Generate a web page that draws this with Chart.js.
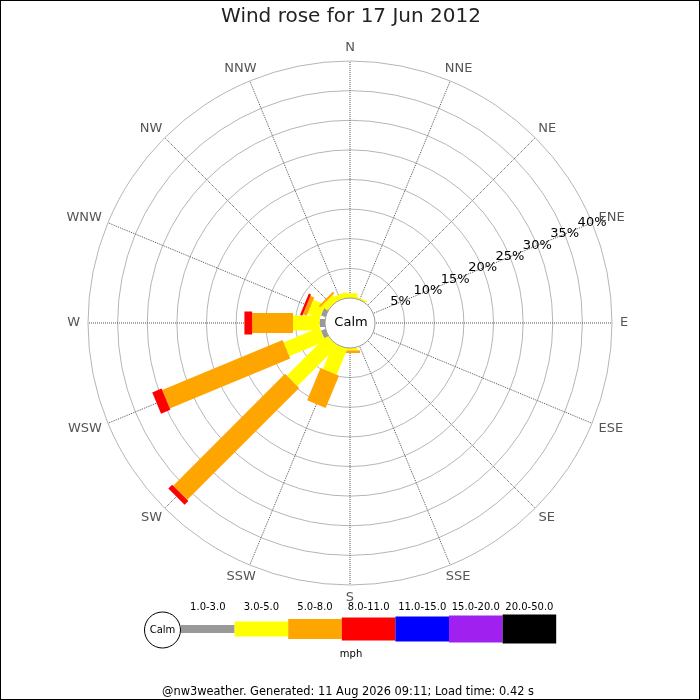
<!DOCTYPE html>
<html><head><meta charset="utf-8">
<script src="https://cdn.jsdelivr.net/npm/chart.js@4.4.1/dist/chart.umd.min.js"></script>
<style>html,body{margin:0;padding:0;background:#fff}</style>
</head><body>
<canvas id="c" width="700" height="700"></canvas>
<script>
// ---- data ----
const directions = ['N','NNE','NE','ENE','E','ESE','SE','SSE','S','SSW','SW','WSW','W','WNW','NW','NNW'];
const speedBins = ['1.0-3.0','3.0-5.0','5.0-8.0','8.0-11.0','11.0-15.0','15.0-20.0','20.0-50.0'];
// percentage of time, per direction, for each speed bin (mph)
const bin1to3   = [0,0,0,0,0,0,0,0,0,0,0,0.8,0.9,0.8,0,0];
const bin3to5   = [0.8,0.3,0,0,0,0,0,0,0.4,4.7,9.6,6.6,4.5,2.2,1.2,0.9];
const bin5to8   = [0,0,0,0,0,0,0,0,0.45,5.9,26.7,22.0,6.9,0.7,0.35,0];
const bin8to11  = [0,0,0,0,0,0,0,0,0,0,0.9,1.7,1.3,0.4,0,0];
const bin11to15 = [0,0,0,0,0,0,0,0,0,0,0,0,0,0,0,0];
const bin15to20 = [0,0,0,0,0,0,0,0,0,0,0,0,0,0,0,0];
const bin20to50 = [0,0,0,0,0,0,0,0,0,0,0,0,0,0,0,0];
const radialTicks = [5,10,15,20,25,30,35,40];
const radialTickLabels = ['5%','10%','15%','20%','25%','30%','35%','40%'];
const titleText = 'Wind rose for 17 Jun 2012';
const unitText = 'mph';
const footerText = '@nw3weather. Generated: 11 Aug 2026 09:11; Load time: 0.42 s';

// ---- styles ----
const binColors = ['#999999','#ffff00','#ffa500','#ff0000','#0000ff','#a020f0','#000000'];
const binWidths = [8,15,20,23,25,27,29];
const CALM_OFFSET = 4.22; // radius of the calm circle, in % units
const FONT = "'DejaVu Sans', sans-serif";

const seriesList = [bin1to3,bin3to5,bin5to8,bin8to11,bin11to15,bin15to20,bin20to50];

const rosePlugin = {
  id: 'rose',
  afterDatasetsDraw(chart) {
    const ctx = chart.ctx, s = chart.scales.r;
    const n = directions.length;
    ctx.save();
    // stacked bars
    for (let i = 0; i < n; i++) {
      const ang = s.getIndexAngle(i) - Math.PI / 2;
      const px = -Math.sin(ang), py = Math.cos(ang);
      let cum = 0;
      chart.data.datasets.forEach((ds, k) => {
        const v = ds.data[i];
        if (!v) return;
        const r1 = s.getDistanceFromCenterForValue(cum);
        cum += v;
        const r2 = s.getDistanceFromCenterForValue(cum);
        const a = s.getPointPosition(i, r1), b = s.getPointPosition(i, r2);
        const h = binWidths[k] / 2;
        ctx.beginPath();
        ctx.moveTo(a.x + px * h, a.y + py * h);
        ctx.lineTo(b.x + px * h, b.y + py * h);
        ctx.lineTo(b.x - px * h, b.y - py * h);
        ctx.lineTo(a.x - px * h, a.y - py * h);
        ctx.closePath();
        ctx.fillStyle = binColors[k];
        ctx.fill();
      });
    }
    // calm circle
    const r0 = s.getDistanceFromCenterForValue(0);
    ctx.beginPath();
    ctx.arc(s.xCenter, s.yCenter, r0, 0, Math.PI * 2);
    ctx.fillStyle = '#fff';
    ctx.fill();
    ctx.lineWidth = 1;
    ctx.strokeStyle = '#999';
    ctx.stroke();
    ctx.fillStyle = '#000';
    ctx.font = '13px ' + FONT;
    ctx.textAlign = 'center';
    ctx.textBaseline = 'middle';
    ctx.fillText('Calm', s.xCenter + 1, s.yCenter);
    // radial tick labels along ENE
    radialTicks.forEach((v, j) => {
      const p = s.getPointPositionForValue(3, v);
      ctx.fillText(radialTickLabels[j], p.x, p.y);
    });
    // direction labels
    const R = s.getDistanceFromCenterForValue(s.max);
    ctx.fillStyle = '#555';
    ctx.font = '13px ' + FONT;
    for (let i = 0; i < n; i++) {
      const ang = s.getIndexAngle(i) - Math.PI / 2;
      const p = s.getPointPosition(i, R + 8);
      const hw = ctx.measureText(directions[i]).width / 2;
      ctx.fillText(directions[i], p.x + Math.cos(ang) * hw, p.y + Math.sin(ang) * 5);
    }
    ctx.restore();
  },
  afterDraw(chart) {
    const ctx = chart.ctx;
    ctx.save();
    // title
    ctx.fillStyle = '#222';
    ctx.font = '20px ' + FONT;
    ctx.textAlign = 'center';
    ctx.textBaseline = 'middle';
    ctx.fillText(titleText, 351, 17);
    // legend
    const cy = 629, x0 = 181, bw = 53.6;
    ctx.beginPath();
    ctx.arc(162.5, 630, 18, 0, Math.PI * 2);
    ctx.fillStyle = '#fff'; ctx.fill();
    ctx.strokeStyle = '#000'; ctx.lineWidth = 1; ctx.stroke();
    ctx.fillStyle = '#000';
    ctx.font = '10px ' + FONT;
    ctx.fillText('Calm', 162.5, 630);
    speedBins.forEach((lab, k) => {
      const x = x0 + k * bw, h = binWidths[k];
      ctx.fillStyle = binColors[k];
      ctx.fillRect(x, cy - h / 2, bw, h);
      ctx.fillStyle = '#000';
      ctx.fillText(lab, x + bw / 2, 607);
    });
    ctx.fillText(unitText, 351, 654);
    // footer
    ctx.font = '11.4px ' + FONT;
    ctx.fillText(footerText, 348, 692);
    // frame
    ctx.strokeStyle = '#000'; ctx.lineWidth = 2;
    ctx.strokeRect(0, 0, 700, 700);
    ctx.restore();
  }
};

new Chart(document.getElementById('c'), {
  type: 'radar',
  data: {
    labels: directions,
    datasets: seriesList.map((d, k) => ({
      label: speedBins[k],
      data: d,
      borderColor: 'rgba(0,0,0,0)',
      backgroundColor: 'rgba(0,0,0,0)',
      borderWidth: 0,
      pointRadius: 0,
      pointHoverRadius: 0,
      fill: false
    }))
  },
  options: {
    responsive: false,
    animation: false,
    events: [],
    layout: { padding: { left: 88, right: 88, top: 61, bottom: 115 } },
    plugins: { legend: { display: false }, tooltip: { enabled: false }, title: { display: false } },
    scales: {
      r: {
        min: -CALM_OFFSET,
        max: 40,
        ticks: { display: false, stepSize: 5 },
        grid: {
          circular: true,
          lineWidth: 1,
          color: (c) => (c.tick && c.tick.value > 0) ? '#b5b5b5' : 'rgba(0,0,0,0)'
        },
        angleLines: { color: '#555', lineWidth: 1, borderDash: [1, 1] },
        pointLabels: { display: false }
      }
    }
  },
  plugins: [rosePlugin]
});
</script>
</body></html>
